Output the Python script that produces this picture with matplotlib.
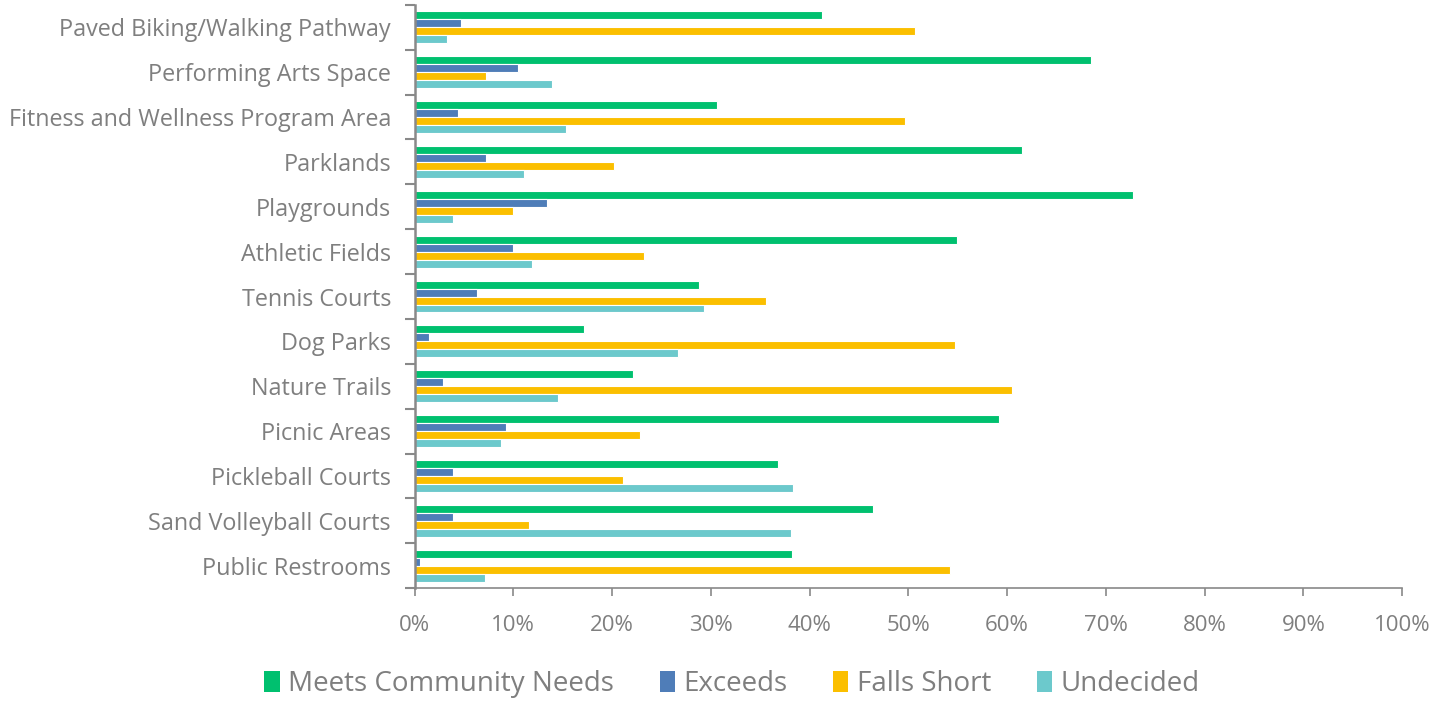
import matplotlib
matplotlib.use("Agg")
import matplotlib.pyplot as plt
import numpy as np
from matplotlib.ticker import FuncFormatter, FixedLocator
from matplotlib.patches import Patch

categories = ["Paved Biking/Walking Pathway", "Performing Arts Space",
              "Fitness and Wellness Program Area", "Parklands", "Playgrounds",
              "Athletic Fields", "Tennis Courts", "Dog Parks", "Nature Trails",
              "Picnic Areas", "Pickleball Courts", "Sand Volleyball Courts",
              "Public Restrooms"]
meets =     [41.3, 68.5, 30.6, 61.5, 72.8, 54.9, 28.8, 17.2, 22.1, 59.2, 36.8, 46.4, 38.2]
exceeds =   [4.7, 10.5, 4.4, 7.2, 13.4, 10.0, 6.3, 1.5, 2.9, 9.3, 3.9, 3.9, 0.5]
falls =     [50.7, 7.2, 49.7, 20.2, 10.0, 23.2, 35.6, 54.7, 60.5, 22.8, 21.1, 11.6, 54.2]
undecided = [3.3, 13.9, 15.3, 11.1, 3.9, 11.9, 29.3, 26.7, 14.5, 8.8, 38.3, 38.1, 7.1]
series_names = ["Meets Community Needs", "Exceeds", "Falls Short", "Undecided"]
colors = ["#00C06F", "#4F7DB8", "#FBBF00", "#6CC9CC"]

plt.rcParams['font.family'] = ['Open Sans', 'DejaVu Sans']
txt = "#7F7F7F"
axc = "#898989"

fig = plt.figure(figsize=(14.41, 7.01), dpi=100)
ax = fig.add_axes([0.2877, 0.161, 0.973 - 0.2877, 0.993 - 0.161])

y = np.arange(len(categories))
h = 0.178
data = [meets, exceeds, falls, undecided]
for k, (vals, c) in enumerate(zip(data, colors)):
    off = (k - 1.5) * h
    ax.barh(y + off, vals, height=h, color=c, edgecolor="white", linewidth=0.8)

ax.set_xlim(0, 100)
ax.set_ylim(len(categories) - 0.5, -0.5)
ax.set_xticks(np.arange(0, 101, 10))
ax.xaxis.set_major_formatter(FuncFormatter(lambda v, p: f"{int(v)}%"))
ax.yaxis.set_major_locator(FixedLocator(np.arange(-0.5, len(categories), 1)))
ax.yaxis.set_major_formatter(FuncFormatter(lambda v, p: ""))
ax.yaxis.set_minor_locator(FixedLocator(y))
ax.set_yticklabels(categories, minor=True)
ax.tick_params(axis='y', which='minor', length=0, pad=17, labelsize=16.8, labelcolor=txt)
ax.tick_params(axis='y', which='major', length=7, width=1.5, color=axc, direction='out')
ax.tick_params(axis='x', length=6, width=1.2, color=axc, labelsize=16, labelcolor=txt, pad=13)

for s in ["top", "right"]:
    ax.spines[s].set_visible(False)
ax.spines["left"].set_color(axc)
ax.spines["left"].set_linewidth(1.8)
ax.spines["bottom"].set_color(axc)
ax.spines["bottom"].set_linewidth(1.2)

handles = [Patch(facecolor=c, edgecolor='none') for c in colors]
leg = fig.legend(handles, series_names, loc="center", bbox_to_anchor=(0.508, 0.024),
                 ncol=4, frameon=False, fontsize=20, handlelength=0.55, handleheight=0.8,
                 handletextpad=0.3, columnspacing=1.65)
for t in leg.get_texts():
    t.set_color(txt)

fig.savefig("out.png", dpi=100)
